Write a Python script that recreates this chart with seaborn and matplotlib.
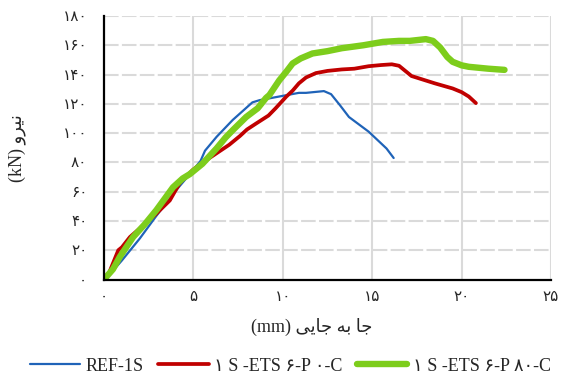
import matplotlib
matplotlib.use("Agg")
import matplotlib.pyplot as plt
import seaborn as sns
import pandas as pd

# ---- data ----
ref_x = [0, 0.5, 1.0, 2.0, 2.9, 3.9, 4.8, 5.4, 5.65, 6.3, 7.2, 8.3, 8.7, 9.8, 10.9, 11.3, 12.3, 12.7, 13.2, 13.7, 14.8, 15.8, 16.2]
ref_y = [0, 6, 13, 28, 43, 59, 72, 81, 88, 97.5, 109, 121, 122.5, 125, 127.5, 127.5, 128.7, 126.6, 119, 111, 101, 89.5, 83]

p0_x = [0, 0.3, 0.6, 0.8, 1.0, 1.45, 2.2, 2.93, 3.68, 4.24, 4.98, 5.9, 7.0, 7.6, 8.0, 8.5, 9.2, 9.6, 10.2, 10.55, 10.9, 11.3, 11.85,
        12.5, 13.3, 14.0, 14.8, 15.5, 16.1, 16.5, 16.9, 17.2, 18.5, 19.5, 20.0, 20.4, 20.8]
p0_y = [0, 5, 14, 20, 22, 29, 37, 45, 54, 66, 75, 83, 92, 98, 102.5, 106.5, 112, 117, 125, 129, 134, 138, 141,
        142.5, 143.5, 144, 145.7, 146.5, 147, 146, 142, 139, 134, 130.5, 128, 125, 120.5]

p80_x = [0, 0.5, 0.89, 1.63, 2.3, 2.93, 3.86, 4.4, 4.8, 5.5, 6.3, 6.8, 7.2, 7.95, 8.6, 9.06, 9.25, 9.8, 10.2, 10.55, 11.0, 11.66,
         12.5, 13.3, 14.5, 15.6, 16.5, 17.1, 18.0, 18.4, 18.8, 19.2, 19.5, 20.0, 20.4, 21.5, 22.4]
p80_y = [0, 7, 15.6, 29, 38, 47.4, 63, 69, 72, 79, 89.6, 97, 102, 111, 117, 124, 126, 136, 142, 147.6, 151, 154.4,
         156, 158, 160, 162.3, 163, 163, 164.2, 163, 158.5, 152, 148.7, 146.3, 145.3, 144, 143.2]

x_ticks = [0, 5, 10, 15, 20, 25]
x_tick_labels = ["\u06F0", "\u06F5", "\u06F1\u06F0", "\u06F1\u06F5", "\u06F2\u06F0", "\u06F2\u06F5"]
y_ticks = [0, 20, 40, 60, 80, 100, 120, 140, 160, 180]
y_tick_labels = ["\u06F0", "\u06F2\u06F0", "\u06F4\u06F0", "\u06F6\u06F0", "\u06F8\u06F0",
                 "\u06F1\u06F0\u06F0", "\u06F1\u06F2\u06F0", "\u06F1\u06F4\u06F0", "\u06F1\u06F6\u06F0", "\u06F1\u06F8\u06F0"]

series_names = ["REF-1S",
                "\u06F1 S -ETS \u06F6-P \u06F0-C",
                "\u06F1 S -ETS \u06F6-P \u06F8\u06F0-C"]
series_colors = ["#1F63B8", "#C00000", "#7DCD1C"]
series_widths = [1.6, 2.7, 4.6]

# Persian labels in visual (shaped, left-to-right) order
x_label = "(mm) " + "\uFEF0\uFEF3\uFE8E\uFE9F" + " " + "\uFEEA\uFE91" + " " + "\uFE8E\uFE9F"
y_label = "(kN) " + "\uFEED\uFEAE\uFEF4\uFEE7"

sns.set_theme(style="white")
fam = ["Liberation Serif", "DejaVu Sans"]
plt.rcParams["font.family"] = fam

fig = plt.figure(figsize=(5.69, 3.76), dpi=100)
ax = fig.add_axes([104 / 569, 1 - 279.5 / 376, (551 - 104) / 569, (279.5 - 16) / 376])

frames = []
for name, xs, ys in zip(series_names, [ref_x, p0_x, p80_x], [ref_y, p0_y, p80_y]):
    frames.append(pd.DataFrame({"x": xs, "y": ys, "s": name}))
df = pd.concat(frames, ignore_index=True)

for name, col, lw in zip(series_names, series_colors, series_widths):
    sub = df[df["s"] == name]
    sns.lineplot(data=sub, x="x", y="y", ax=ax, color=col, linewidth=lw, label=name,
                 sort=False, estimator=None, solid_capstyle="round", solid_joinstyle="round")

ax.set_xlim(0, 25)
ax.set_ylim(0, 180)
ax.set_xticks(x_ticks)
ax.set_xticklabels(x_tick_labels, fontsize=11, family=fam)
ax.set_yticks(y_ticks)
ax.set_yticklabels(y_tick_labels, fontsize=11, family=fam)
ax.tick_params(axis="both", length=0)
ax.tick_params(axis="x", pad=8)
ax.tick_params(axis="y", pad=12)

ax.grid(False)
for xv in x_ticks[1:]:
    ax.axvline(xv, color="#DADADA", lw=1.5, zorder=0)
for yv in y_ticks[1:]:
    ax.axhline(yv, color="#DADADA", lw=1.5, ls=(0, (7, 1.6)), zorder=0)

for s in ["top", "right"]:
    ax.spines[s].set_visible(False)
for s in ["left", "bottom"]:
    ax.spines[s].set_color("black")
    ax.spines[s].set_linewidth(1.6)

ax.set_xlabel(x_label, fontsize=13, family=fam)
ax.xaxis.set_label_coords(0.465, -0.145)
ax.set_ylabel(y_label, fontsize=13, family=fam)
ax.yaxis.set_label_coords(-0.175, 0.5)

ax.get_legend().remove()
handles, labels = ax.get_legend_handles_labels()
fig.legend(handles, labels, loc="center", bbox_to_anchor=(0.51, 0.026), ncol=3, frameon=False,
           prop={"family": fam, "size": 13}, handlelength=2.8, handletextpad=0.3, columnspacing=0.8)

fig.savefig("out.png", dpi=100)
